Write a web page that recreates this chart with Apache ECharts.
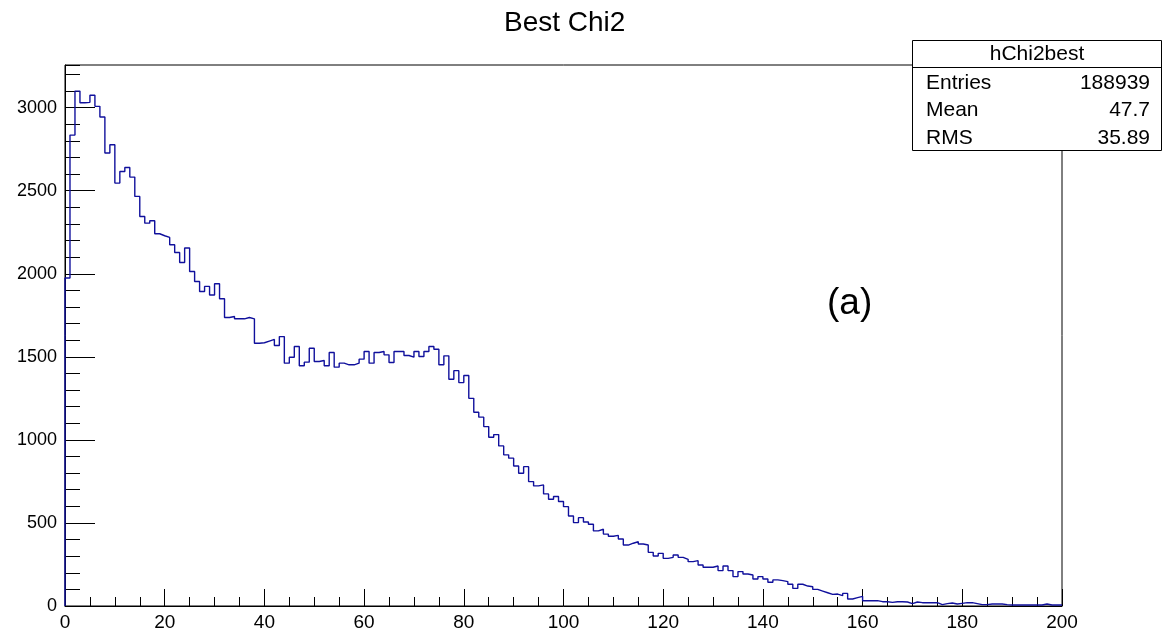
<!DOCTYPE html>
<html>
<head>
<meta charset="utf-8">
<title>Best Chi2</title>
<script src="https://cdn.jsdelivr.net/npm/echarts@6/dist/echarts.min.js"></script>
<style>
    body { margin: 0; background: #fff; }
    #chart { width: 1169px; height: 636px; }
</style>
</head>
<body>
<div id="chart"></div>
<script>
    // histogram hChi2best: 200 bins of width 1 from 0 to 200
    var binLow = 0;
    var binWidth = 1;
    var binCounts = [
        1975, 2835, 3100, 3030, 3032, 3075, 3008, 2944, 2727, 2777,
        2546, 2616, 2640, 2582, 2466, 2345, 2305, 2319, 2241, 2229,
        2219, 2175, 2128, 2068, 2155, 2014, 1954, 1893, 1924, 1872,
        1940, 1850, 1737, 1743, 1729, 1729, 1737, 1729, 1582, 1585,
        1595, 1605, 1568, 1622, 1462, 1498, 1562, 1446, 1468, 1552,
        1472, 1478, 1446, 1526, 1438, 1462, 1452, 1452, 1462, 1486,
        1532, 1462, 1526, 1532, 1512, 1466, 1532, 1532, 1508, 1498,
        1532, 1502, 1532, 1562, 1546, 1452, 1506, 1365, 1417, 1345,
        1388, 1250, 1166, 1137, 1080, 1016, 1032, 964, 910, 890,
        843, 799, 839, 749, 723, 729, 675, 643, 659, 629,
        598, 542, 502, 532, 506, 492, 452, 462, 433, 420,
        425, 403, 367, 378, 387, 373, 367, 323, 301, 317,
        287, 293, 307, 293, 281, 267, 273, 247, 233, 233,
        241, 213, 241, 213, 177, 207, 193, 187, 163, 177,
        163, 143, 157, 153, 147, 131, 106, 131, 120, 116,
        100, 90, 80, 70, 72, 62, 76, 42, 50, 58,
        32, 32, 32, 26, 26, 22, 26, 26, 24, 14,
        24, 20, 20, 20, 20, 8, 14, 18, 12, 16,
        20, 20, 14, 8, 8, 12, 12, 12, 8, 6,
        6, 6, 6, 6, 6, 6, 12, 6, 6, 6
    ];
    var xRange = [0, 200];
    var yRange = [0, 3257];
    var statsName = 'hChi2best';
    var statsLabels = ['Entries', 'Mean', 'RMS'];
    var statsValues = ['188939', '47.7', '35.89'];

    var fontName = 'Liberation Sans, Arial, Helvetica, sans-serif';

    // left edge of each bin, closed at the right end so the last step is drawn
    function histPoints() {
        var pts = [[binLow, 0]];
        for (var i = 0; i < binCounts.length; i++) {
            pts.push([binLow + i * binWidth, binCounts[i]]);
        }
        pts.push([binLow + binCounts.length * binWidth, binCounts[binCounts.length - 1]]);
        return pts;
    }

    var myChart = echarts.init(document.getElementById('chart'));

    var statsBox = [];
    statsBox.push({
        type: 'rect', z: 100,
        shape: { x: 912.5, y: 40.5, width: 249, height: 110 },
        style: { fill: '#fff', stroke: '#000', lineWidth: 1 }
    });
    statsBox.push({
        type: 'line', z: 101,
        shape: { x1: 912.5, y1: 67.5, x2: 1161.5, y2: 67.5 },
        style: { stroke: '#000', lineWidth: 1 }
    });
    statsBox.push({
        type: 'text', z: 102, x: 1037, y: 54,
        style: { text: statsName, font: '21px ' + fontName, fill: '#000', textAlign: 'center', textVerticalAlign: 'middle' }
    });
    for (var r = 0; r < statsLabels.length; r++) {
        var rowY = 83 + r * 27.5;
        statsBox.push({
            type: 'text', z: 102, x: 926, y: rowY,
            style: { text: statsLabels[r], font: '21px ' + fontName, fill: '#000', textAlign: 'left', textVerticalAlign: 'middle' }
        });
        statsBox.push({
            type: 'text', z: 102, x: 1150, y: rowY,
            style: { text: statsValues[r], font: '21px ' + fontName, fill: '#000', textAlign: 'right', textVerticalAlign: 'middle' }
        });
    }
    statsBox.push({
        type: 'text', z: 102, x: 827, y: 304,
        style: { text: '(a)', font: '37px ' + fontName, fill: '#000', textAlign: 'left', textVerticalAlign: 'middle' }
    });

    var option = {
        animation: false,
        backgroundColor: '#fff',
        title: {
            text: 'Best Chi2',
            left: 499,
            top: 4,
            textStyle: { fontFamily: fontName, fontSize: 28, fontWeight: 'normal', color: '#000' }
        },
        grid: {
            left: 65, right: 107, top: 65, bottom: 30,
            show: true, borderColor: '#000', borderWidth: 1, backgroundColor: 'transparent'
        },
        xAxis: {
            type: 'value',
            min: xRange[0],
            max: xRange[1],
            interval: 20,
            axisLine: { show: true, lineStyle: { color: '#000', width: 1 } },
            axisTick: { show: true, inside: true, length: 17, lineStyle: { color: '#000' } },
            minorTick: { show: true, splitNumber: 4, length: 9, lineStyle: { color: '#000' } },
            splitLine: { show: false },
            axisLabel: { fontFamily: fontName, fontSize: 19, color: '#000', margin: 7 }
        },
        yAxis: [{
            type: 'value',
            min: yRange[0],
            max: yRange[1],
            interval: 500,
            axisLine: { show: true, lineStyle: { color: '#000', width: 1 } },
            axisTick: { show: true, inside: true, length: 30, lineStyle: { color: '#000' } },
            splitLine: { show: false },
            axisLabel: {
                fontFamily: fontName, fontSize: 18, color: '#000', margin: 8, showMaxLabel: false,
                formatter: function (v) { return String(v); }
            }
        }, {
            // finer ticks every 100
            type: 'value',
            position: 'left',
            min: yRange[0],
            max: yRange[1],
            interval: 100,
            axisLine: { show: false },
            axisTick: { show: true, inside: true, length: 15, lineStyle: { color: '#000' } },
            splitLine: { show: false },
            axisLabel: { show: false }
        }],
        series: [{
            type: 'line',
            step: 'end',
            yAxisIndex: 0,
            symbol: 'none',
            data: histPoints(),
            lineStyle: { color: '#10109c', width: 1.4 }
        }],
        graphic: statsBox
    };
    myChart.setOption(option, true);
</script>
</body>
</html>
